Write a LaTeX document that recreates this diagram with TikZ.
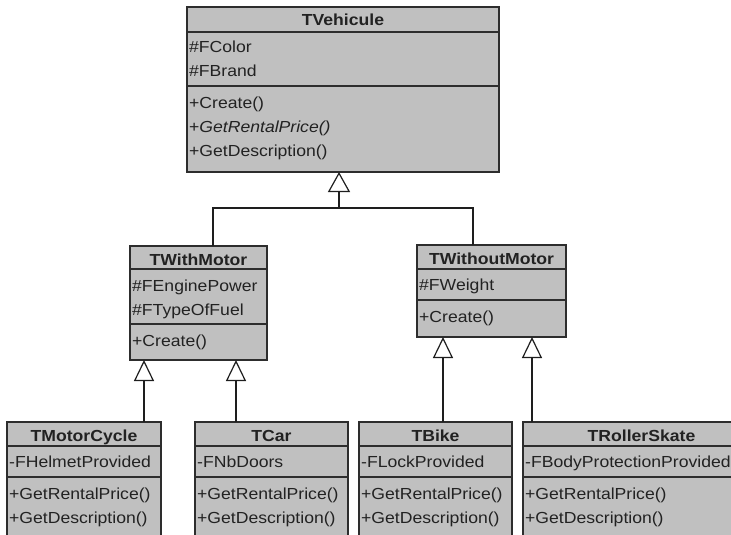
\documentclass[tikz,border=0pt]{standalone}
\usepackage{fontspec}
\setmainfont{Liberation Sans}[FakeStretch=1.1]
\usetikzlibrary{arrows.meta}
\definecolor{boxfill}{RGB}{192,192,192}
\definecolor{boxline}{RGB}{45,45,45}
\definecolor{txtcol}{RGB}{34,34,34}
\definecolor{wirecol}{RGB}{30,30,30}
\tikzset{
  classbox/.style={draw=boxline, fill=boxfill, line width=1.3pt, inner sep=0pt, outer sep=0pt},
  sepline/.style={draw=boxline, line width=1.3pt},
  titletxt/.style={anchor=base, inner sep=0pt, font=\fontsize{16}{19}\selectfont\bfseries, text=txtcol},
  rowtxt/.style={anchor=base west, inner sep=0pt, font=\fontsize{16}{19}\selectfont, text=txtcol},
  wire/.style={draw=wirecol, line width=1.2pt},
  bigtip/.style={-{Triangle[length=20pt, width=22pt, fill=white]}},
  smalltip/.style={-{Triangle[length=21pt, width=20pt, fill=white]}},
}
\newcommand\umlclass[8]{%
  \node[classbox, minimum width={#4-#2}, minimum height={#7-#3}, anchor=north west] (#1) at (#2,#3) {};
  \draw[sepline] (#2,#5) -- (#4,#5);
  \draw[sepline] (#2,#6) -- (#4,#6);
  \node[titletxt] (#1-title) at ({(#2+#4)/2},#3+19) {#8};
}
\newcommand\umlrows[4]{%
  \foreach \t [count=\i from 0] in {#4} {\node[rowtxt] (#1\i) at (#2,#3+24*\i) {\t};}%
}
\begin{document}
\begin{tikzpicture}[x=1pt,y=-1pt]
\useasboundingbox (0,0) rectangle (731,535);
\clip (0,0) rectangle (731,535);
% TVehicule
\umlclass{veh}{187}{7}{499}{32}{86}{172}{TVehicule}
\umlrows{veha}{189}{53}{\#FColor,\#FBrand}
\umlrows{vehm}{189}{108}{+Create(),+\textit{GetRentalPrice()},+GetDescription()}
% TWithMotor
\umlclass{wm}{130}{246}{267}{269}{324}{360}{TWithMotor}
\umlrows{wma}{132}{291}{\#FEnginePower,\#FTypeOfFuel}
\umlrows{wmm}{132}{346}{+Create()}
% TWithoutMotor
\umlclass{wom}{417}{245}{566}{269}{300}{337}{TWithoutMotor}
\umlrows{woma}{419}{290}{\#FWeight}
\umlrows{womm}{419}{322}{+Create()}
% bottom row
\umlclass{mc}{7}{422}{161}{446}{477}{560}{TMotorCycle}
\umlrows{mca}{9}{467}{-FHelmetProvided}
\umlrows{mcm}{9}{499}{+GetRentalPrice(),+GetDescription()}
\umlclass{car}{195}{422}{348}{446}{477}{560}{TCar}
\umlrows{cara}{197}{467}{-FNbDoors}
\umlrows{carm}{197}{499}{+GetRentalPrice(),+GetDescription()}
\umlclass{bike}{359}{422}{512}{446}{477}{560}{TBike}
\umlrows{bikea}{361}{467}{-FLockProvided}
\umlrows{bikem}{361}{499}{+GetRentalPrice(),+GetDescription()}
\umlclass{rs}{523}{422}{760}{446}{477}{560}{TRollerSkate}
\umlrows{rsa}{525}{467}{-FBodyProtectionProvided}
\umlrows{rsm}{525}{499}{+GetRentalPrice(),+GetDescription()}
% connectors
\coordinate (j) at (339,208);
\draw[wire] ([xshift=83pt]wm.north west) |- (j);
\draw[wire] ([xshift=56pt]wom.north west) |- (j);
\draw[wire, line width=2.2pt] (j) -- ++(0,-16);
\draw[wire, bigtip] (j) -- (j |- veh.south);
\draw[wire, smalltip] ([xshift=137pt]mc.north west) -- ([xshift=14pt]wm.south west);
\draw[wire, smalltip] ([xshift=41pt]car.north west) -- ([xshift=106pt]wm.south west);
\draw[wire, smalltip] ([xshift=84pt]bike.north west) -- ([xshift=26pt]wom.south west);
\draw[wire, smalltip] ([xshift=9pt]rs.north west) -- ([xshift=115pt]wom.south west);
\end{tikzpicture}
\end{document}
